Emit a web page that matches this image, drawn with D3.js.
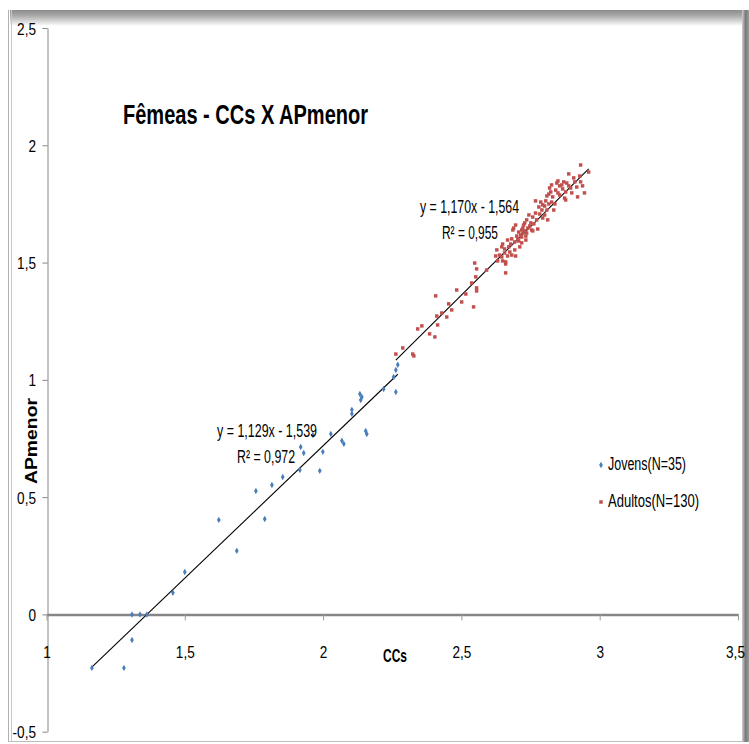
<!DOCTYPE html>
<html>
<head>
<meta charset="utf-8">
<script src="https://cdn.jsdelivr.net/npm/d3@7"></script>
<style>
body { margin: 0; background: #fff; }
svg { display: block; }
</style>
</head>
<body>
<div id="chart"></div>
<script>
var width = 749, height = 744;

// tick values
var xTicks = [1, 1.5, 2, 2.5, 3, 3.5];
var yTicks = [-0.5, 0, 0.5, 1, 1.5, 2, 2.5];

// series: Jovens (N=35)
var jovensX = [1.164, 1.280, 1.309, 1.309, 1.338, 1.363, 1.457, 1.500, 1.623, 1.688,
               1.757, 1.789, 1.815, 1.854, 1.916, 1.919, 1.930, 1.963, 1.988, 1.999,
               2.028, 2.068, 2.075, 2.104, 2.104, 2.133, 2.140, 2.136, 2.154, 2.158,
               2.219, 2.255, 2.263, 2.270, 2.263];
var jovensY = [-0.228, -0.228, -0.109, 0, 0, 0, 0.092, 0.181, 0.403, 0.271,
               0.526, 0.407, 0.552, 0.586, 0.616, 0.714, 0.688, 0.765, 0.612, 0.693,
               0.769, 0.740, 0.727, 0.872, 0.855, 0.940, 0.927, 0.914, 0.782, 0.769,
               0.961, 1.012, 1.042, 1.064, 0.948];

// series: Adultos (N=130)
var adultosX = [2.263, 2.288, 2.324, 2.328, 2.342, 2.357, 2.385, 2.404, 2.414, 2.411,
                2.429, 2.447, 2.407, 2.454, 2.465, 2.483, 2.501, 2.516, 2.537, 2.544,
                2.548, 2.555, 2.552, 2.555, 2.555, 2.591, 2.660, 2.660, 2.931, 2.960,
                2.888, 2.849, 2.845, 2.870, 2.910, 2.931, 2.826, 2.855, 2.888, 2.895,
                2.819, 2.866, 2.917, 2.823, 2.877, 2.899, 2.945, 2.849, 2.855, 2.920,
                2.873, 2.877, 2.816, 2.768, 2.787, 2.805, 2.826, 2.838, 2.801, 2.780,
                2.791, 2.834, 2.809, 2.744, 2.758, 2.801, 2.812, 2.772, 2.736, 2.729,
                2.725, 2.751, 2.696, 2.722, 2.718, 2.740, 2.776, 2.686, 2.707, 2.754,
                2.736, 2.714, 2.718, 2.700, 2.733, 2.682, 2.667, 2.707, 2.718, 2.733,
                2.646, 2.628, 2.638, 2.656, 2.682, 2.667, 2.696, 2.646, 2.649, 2.660,
                2.624, 2.631, 2.675, 2.693, 2.689, 2.758, 2.816, 2.809, 2.656, 2.671,
                2.678, 2.693, 2.704, 2.722, 2.729, 2.747, 2.762, 2.768, 2.783, 2.794,
                2.830, 2.841, 2.863, 2.881, 2.906, 2.928, 2.938, 2.794, 2.711, 2.649];
var adultosY = [1.110, 1.136, 1.110, 1.102, 1.217, 1.230, 1.196, 1.183, 1.234, 1.272,
                1.285, 1.268, 1.358, 1.324, 1.298, 1.383, 1.332, 1.366, 1.413, 1.311,
                1.498, 1.473, 1.439, 1.392, 1.379, 1.468, 1.456, 1.494, 1.916, 1.886,
                1.878, 1.848, 1.839, 1.844, 1.844, 1.844, 1.831, 1.827, 1.827, 1.818,
                1.818, 1.814, 1.822, 1.801, 1.801, 1.797, 1.797, 1.797, 1.788, 1.780,
                1.775, 1.767, 1.792, 1.763, 1.758, 1.763, 1.758, 1.750, 1.741, 1.737,
                1.724, 1.724, 1.724, 1.703, 1.694, 1.703, 1.682, 1.682, 1.682, 1.669,
                1.660, 1.669, 1.660, 1.647, 1.639, 1.647, 1.643, 1.639, 1.630, 1.639,
                1.626, 1.618, 1.609, 1.613, 1.613, 1.601, 1.596, 1.592, 1.584, 1.596,
                1.567, 1.554, 1.532, 1.541, 1.532, 1.528, 1.528, 1.524, 1.507, 1.503,
                1.528, 1.507, 1.545, 1.554, 1.647, 1.635, 1.750, 1.784, 1.558, 1.567,
                1.579, 1.588, 1.601, 1.626, 1.635, 1.656, 1.665, 1.711, 1.707, 1.746,
                1.780, 1.809, 1.831, 1.839, 1.861, 1.869, 1.827, 1.690, 1.567, 1.579];

// trendline coefficients (slope, intercept) and R²
var trendJovens = [1.129, -1.539], r2Jovens = 0.972;
var trendAdultos = [1.170, -1.564], r2Adultos = 0.955;

var seriesNames = ["Jovens(N=35)", "Adultos(N=130)"];
var colors = ["#4a7ebb", "#c0504d"];

var locale = d3.formatLocale({decimal: ",", thousands: ".", grouping: [3], currency: ["", ""], minus: "-"});
var tickFmt = locale.format("~g");
var coefFmt = locale.format(".3f");

var svg = d3.select("#chart").append("svg").attr("width", width).attr("height", height)
    .style("font-family", "'Liberation Sans', Arial, sans-serif");

var x = d3.scaleLinear().domain([1, 3.5]).range([46.5, 738]);
var y = d3.scaleLinear().domain([-0.5, 2.5]).range([731.7, 28]);

// frame
var defs = svg.append("defs");
var gTop = defs.append("linearGradient").attr("id", "gtop").attr("x1", 0).attr("y1", 0).attr("x2", 0).attr("y2", 1);
gTop.append("stop").attr("offset", "0").attr("stop-color", "#8c8c8c");
gTop.append("stop").attr("offset", "0.35").attr("stop-color", "#a9a9a9");
gTop.append("stop").attr("offset", "1").attr("stop-color", "#ffffff");
var gRight = defs.append("linearGradient").attr("id", "gright").attr("x1", 0).attr("y1", 0).attr("x2", 1).attr("y2", 0);
gRight.append("stop").attr("offset", "0").attr("stop-color", "#d0d0d0");
gRight.append("stop").attr("offset", "0.5").attr("stop-color", "#7a7a7a");
gRight.append("stop").attr("offset", "1").attr("stop-color", "#9a9a9a");

svg.append("rect").attr("x", 10).attr("y", 10).attr("width", 733).attr("height", 16).attr("fill", "url(#gtop)");
svg.append("rect").attr("x", 742).attr("y", 10).attr("width", 7).attr("height", 732).attr("fill", "url(#gright)");
svg.append("line").attr("x1", 8.5).attr("x2", 8.5).attr("y1", 10).attr("y2", 742).attr("stroke", "#b0b0b0");
svg.append("line").attr("x1", 11.5).attr("x2", 11.5).attr("y1", 10).attr("y2", 742).attr("stroke", "#c8c8c8");
svg.append("line").attr("x1", 8).attr("x2", 742).attr("y1", 741.5).attr("y2", 741.5).attr("stroke", "#bdbdbd");

function narrow(sel, f) {
    sel.each(function() {
        var w = this.getComputedTextLength();
        d3.select(this).attr("textLength", w * f).attr("lengthAdjust", "spacingAndGlyphs");
    });
}

// y axis
var yAxis = svg.append("g").attr("transform", "translate(47.5,0)")
    .call(d3.axisLeft(y).tickValues(yTicks).tickSize(5).tickSizeOuter(0).tickPadding(6.5).tickFormat(tickFmt));
yAxis.select(".domain").attr("stroke", "#868686");
yAxis.selectAll(".tick line").attr("stroke", "#868686");
yAxis.selectAll(".tick text").attr("font-size", 17).attr("fill", "#000").attr("dy", "0.36em")
    .attr("font-family", "'Liberation Sans', Arial, sans-serif")
    .call(narrow, 0.8);

// x axis at y = 0
var xAxis = svg.append("g").attr("transform", "translate(0," + y(0) + ")")
    .call(d3.axisBottom(x).tickValues(xTicks).tickSize(6).tickSizeOuter(0).tickFormat(tickFmt));
xAxis.select(".domain").attr("stroke", "#868686").attr("stroke-width", 2.5);
xAxis.selectAll(".tick line").attr("stroke", "#9a9a9a");
xAxis.selectAll(".tick text").attr("font-size", 17).attr("fill", "#000").attr("y", 44).attr("dy", 0)
    .attr("font-family", "'Liberation Sans', Arial, sans-serif")
    .attr("dx", function(d){ return d === 3.5 ? -3 : 0; })
    .call(narrow, 0.8);

// trendlines
function trend(xs, coef) {
    var x0 = d3.min(xs), x1 = d3.max(xs);
    svg.append("line")
        .attr("x1", x(x0)).attr("y1", y(coef[0] * x0 + coef[1]))
        .attr("x2", x(x1)).attr("y2", y(coef[0] * x1 + coef[1]))
        .attr("stroke", "#000").attr("stroke-width", 1.1);
}
trend(jovensX, trendJovens);
trend(adultosX, trendAdultos);

// points
var diamond = d3.symbol().type(d3.symbolDiamond).size(12);
var square = d3.symbol().type(d3.symbolSquare).size(12);

svg.append("g").selectAll("path").data(d3.range(jovensX.length)).enter().append("path")
    .attr("d", diamond)
    .attr("transform", function(i){ return "translate(" + x(jovensX[i]) + "," + y(jovensY[i]) + ")"; })
    .attr("fill", colors[0]);

svg.append("g").selectAll("path").data(d3.range(adultosX.length)).enter().append("path")
    .attr("d", square)
    .attr("transform", function(i){ return "translate(" + x(adultosX[i]) + "," + y(adultosY[i]) + ")"; })
    .attr("fill", colors[1]);

// equations
function eq(coef, r2, px, py, w1, w2, dx2) {
    svg.append("text").attr("x", px).attr("y", py).attr("font-size", 19)
        .attr("textLength", w1).attr("lengthAdjust", "spacingAndGlyphs")
        .text("y = " + coefFmt(coef[0]) + "x - " + coefFmt(-coef[1]));
    svg.append("text").attr("x", px + dx2).attr("y", py + 26).attr("font-size", 19)
        .attr("textLength", w2).attr("lengthAdjust", "spacingAndGlyphs")
        .text("R² = " + coefFmt(r2));
}
eq(trendAdultos, r2Adultos, 420, 213, 99, 56, 22);
eq(trendJovens, r2Jovens, 217, 437, 100, 58, 20);

// title
svg.append("text").attr("x", 123).attr("y", 124).attr("font-size", 27).attr("font-weight", "bold")
    .attr("textLength", 245).attr("lengthAdjust", "spacingAndGlyphs")
    .text("Fêmeas - CCs X APmenor");

// axis titles
svg.append("text").attr("x", 383).attr("y", 662).attr("font-size", 19).attr("font-weight", "bold")
    .attr("textLength", 24).attr("lengthAdjust", "spacingAndGlyphs").text("CCs");
svg.append("text").attr("transform", "translate(37,441) rotate(-90)").attr("text-anchor", "middle")
    .attr("font-size", 17).attr("font-weight", "bold")
    .attr("textLength", 86).attr("lengthAdjust", "spacingAndGlyphs").text("APmenor");

// legend
var legend = svg.append("g");
var legendRows = [[465, 470, 78, diamond], [502, 507, 91, square]];
legendRows.forEach(function(r, i) {
    legend.append("path").attr("d", r[3]).attr("transform", "translate(601," + r[0] + ")").attr("fill", colors[i]);
    legend.append("text").attr("x", 608).attr("y", r[1]).attr("font-size", 18)
        .attr("textLength", r[2]).attr("lengthAdjust", "spacingAndGlyphs").text(seriesNames[i]);
});
</script>
</body>
</html>
